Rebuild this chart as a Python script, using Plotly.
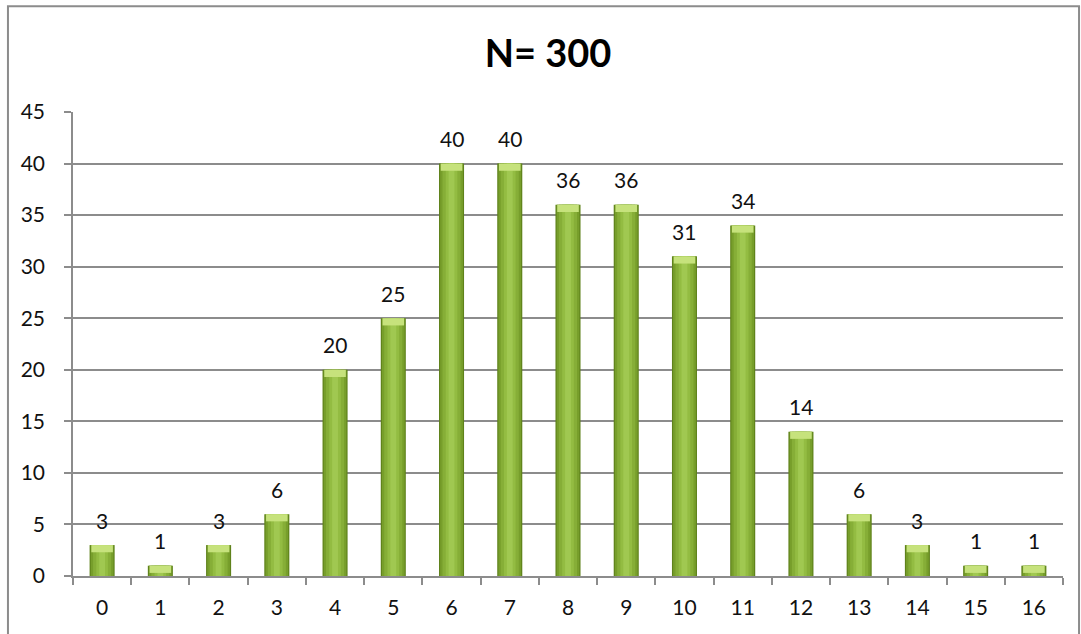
import plotly.graph_objects as go

# Frequency of each score (N = 300)
categories = [str(i) for i in range(17)]
counts = [3, 1, 3, 6, 20, 25, 40, 40, 36, 36, 31, 34, 14, 6, 3, 1, 1]
y_ticks = list(range(0, 50, 5))
title_text = "N= 300"

FONT = "Lato"
fig = go.Figure()

# Layered bars give a rounded, shaded column look
layers = [
    (0.43, "#5F821B"),
    (0.39, "#779E2B"),
    (0.31, "#86AE37"),
    (0.20, "#93BC42"),
    (0.10, "#A0C851"),
]
for w, c in layers:
    fig.add_trace(go.Bar(
        x=categories, y=counts, width=w,
        marker=dict(color=c, line=dict(width=0)),
        hoverinfo="skip", showlegend=False,
    ))

# Light cap on top of each column
cap = 0.7
fig.add_trace(go.Bar(
    x=categories, y=[cap] * len(counts), base=[v - cap for v in counts],
    width=0.37, marker=dict(color="#C6E27C", line=dict(width=0)),
    hoverinfo="skip", showlegend=False,
))

# Value labels above the columns
for cat, v in zip(categories, counts):
    fig.add_annotation(
        x=cat, y=v, text=str(v), showarrow=False,
        yanchor="middle", yshift=25,
        font=dict(family=FONT, size=21, color="#111"),
    )

# Outer frame (left, top, right edges)
fig.add_shape(
    type="path", xref="paper", yref="paper",
    path="M -0.0657,-0.3 L -0.0657,1.228 L 1.0162,1.228 L 1.0162,-0.3",
    line=dict(color="#8C8C8C", width=2),
)

fig.update_layout(
    width=1081, height=634,
    margin=dict(l=73, r=18, t=112, b=58),
    barmode="overlay",
    paper_bgcolor="white", plot_bgcolor="white",
    title=dict(
        text="<b>" + title_text + "</b>", x=0.507, xanchor="center",
        y=0.915, yanchor="middle",
        font=dict(family=FONT, size=38, color="#000"),
    ),
    font=dict(family=FONT, size=21, color="#111"),
)

fig.update_xaxes(
    type="category", tickson="boundaries", ticks="outside", ticklen=7,
    tickcolor="#8C8C8C", tickwidth=1.5, showline=True, linecolor="#8C8C8C",
    linewidth=1.5, showgrid=False, ticklabelstandoff=12,
    tickfont=dict(family=FONT, size=21, color="#111"),
)
fig.update_yaxes(
    range=[0, 45], tickvals=y_ticks, ticks="outside", ticklen=7,
    tickcolor="#8C8C8C", tickwidth=1.5, showline=True, linecolor="#8C8C8C",
    linewidth=1.5, showgrid=True, gridcolor="#8C8C8C", gridwidth=1.5,
    zeroline=False, ticklabelstandoff=15,
    tickfont=dict(family=FONT, size=21, color="#111"),
)

fig.write_html("out.html")
